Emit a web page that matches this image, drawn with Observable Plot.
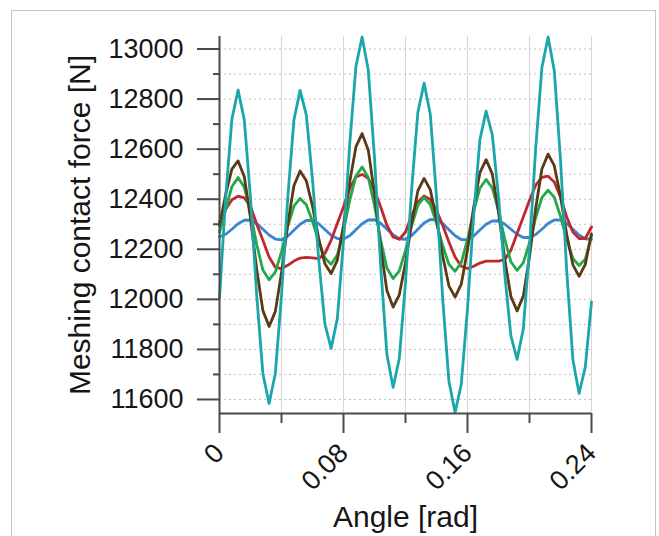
<!DOCTYPE html>
<html>
<head>
<meta charset="utf-8">
<script src="https://cdn.jsdelivr.net/npm/d3@7"></script>
<script src="https://cdn.jsdelivr.net/npm/@observablehq/plot@0.6"></script>
<style>
  html, body { margin: 0; padding: 0; background: #fff; overflow: hidden; }
  #wrap { position: relative; width: 659px; height: 536px; }
  #frame { position: absolute; left: 11px; top: 10px; width: 645px; height: 600px; border: 1px solid #c4c4c4; box-sizing: border-box; }
  #chart { position: absolute; left: 0; top: 0; }
</style>
</head>
<body>
<div id="wrap"><div id="frame"></div><div id="chart"></div></div>
<script>
const angle = [0,0.004,0.008,0.012,0.016,0.02,0.024,0.028,0.032,0.036,0.04,0.044,0.048,0.052,0.056,0.06,0.064,0.068,0.072,0.076,0.08,0.084,0.088,0.092,0.096,0.1,0.104,0.108,0.112,0.116,0.12,0.124,0.128,0.132,0.136,0.14,0.144,0.148,0.152,0.156,0.16,0.164,0.168,0.172,0.176,0.18,0.184,0.188,0.192,0.196,0.2,0.204,0.208,0.212,0.216,0.22,0.224,0.228,0.232,0.236,0.24];

const seriesA = [12250,12260,12280,12302,12316,12317,12303,12280,12257,12241,12238,12252,12276,12300,12315,12316,12302,12279,12256,12243,12241,12254,12278,12302,12317,12318,12304,12280,12258,12242,12240,12255,12280,12305,12319,12318,12303,12278,12254,12239,12238,12253,12277,12300,12313,12314,12301,12280,12260,12247,12247,12259,12280,12303,12317,12317,12303,12280,12257,12242,12240];

const seriesB = [12310,12360,12398,12412,12405,12372,12300,12236,12169,12128,12123,12136,12153,12165,12168,12166,12163,12183,12236,12303,12369,12443,12489,12499,12483,12436,12369,12296,12249,12240,12269,12336,12389,12413,12399,12356,12296,12229,12169,12132,12123,12132,12145,12153,12153,12153,12159,12196,12263,12329,12396,12456,12487,12492,12469,12409,12329,12269,12243,12243,12289];

const seriesC = [12269,12360,12450,12487,12448,12346,12219,12117,12078,12109,12190,12291,12372,12403,12378,12312,12231,12165,12140,12177,12274,12395,12492,12529,12487,12375,12237,12125,12083,12114,12195,12295,12376,12407,12379,12305,12214,12140,12112,12147,12239,12352,12444,12479,12445,12354,12241,12150,12116,12146,12226,12326,12406,12436,12407,12332,12239,12163,12135,12160,12255];

const seriesD = [12295,12420,12520,12553,12490,12325,12120,11955,11892,11951,12106,12299,12454,12513,12474,12372,12244,12142,12103,12156,12296,12469,12609,12662,12596,12423,12208,12035,11969,12018,12146,12306,12434,12483,12438,12319,12173,12054,12009,12061,12198,12369,12506,12558,12501,12350,12162,12011,11954,12013,12170,12364,12521,12580,12534,12412,12260,12138,12092,12140,12262];

const seriesE = [12005,12410,12720,12836,12717,12404,12016,11703,11584,11703,12016,12403,12716,12835,12737,12479,12160,11902,11804,11922,12233,12619,12930,13048,12915,12565,12131,11781,11648,11764,12068,12444,12748,12864,12739,12410,12002,11673,11548,11662,11963,12337,12638,12752,12658,12410,12102,11854,11760,11882,12204,12604,12926,13048,12913,12557,12115,11759,11624,11730,11990];

const seriesNames = ["S1", "S2", "S3", "S4", "S5"];
const seriesColors = ["#3a86d2", "#c0282e", "#24a94a", "#5b3912", "#1aa6ab"];
const seriesValues = [seriesA, seriesB, seriesC, seriesD, seriesE];

const xMajorTicks = [0, 0.08, 0.16, 0.24];
const xMinorTicks = [0.04, 0.12, 0.2];
const xGrid = [0.04, 0.08, 0.12, 0.16, 0.2, 0.24];
const yMajorTicks = [11600, 11800, 12000, 12200, 12400, 12600, 12800, 13000];
const yMinorTicks = [11700, 11900, 12100, 12300, 12500, 12700, 12900];
const yGrid = [11600, 11700, 11800, 11900, 12000, 12100, 12200, 12300, 12400, 12500, 12600, 12700, 12800, 12900, 13000];

const xLabel = "Angle [rad]";
const yLabel = "Meshing contact force [N]";

const data = [];
seriesValues.forEach((vals, s) => {
  vals.forEach((v, i) => data.push({angle: angle[i], force: v, series: seriesNames[s]}));
});

const axisColor = "#4a4a4a";
const textColor = "#161616";

const chart = Plot.plot({
  width: 659,
  height: 536,
  marginLeft: 219,
  marginRight: 68,
  marginTop: 36,
  marginBottom: 123,
  x: {domain: [0, 0.24]},
  y: {domain: [11544, 13050]},
  color: {domain: seriesNames, range: seriesColors},
  style: {fontFamily: "'Liberation Sans', Arial, sans-serif", background: "transparent", color: textColor},
  marks: [
    Plot.gridX(xGrid, {stroke: "#d6d6d6", strokeOpacity: 1, strokeWidth: 1}),
    Plot.gridY(yGrid, {stroke: "#c0c0c0", strokeOpacity: 1, strokeWidth: 1, strokeDasharray: "2,3"}),
    Plot.line(data, {x: "angle", y: "force", z: "series", stroke: "series", strokeWidth: 2.8, curve: "linear", strokeLinejoin: "round"}),
    Plot.ruleY([11544], {stroke: axisColor, strokeWidth: 2}),
    Plot.ruleX([0], {stroke: axisColor, strokeWidth: 2}),
    Plot.axisY(yMajorTicks, {tickSize: 22, tickPadding: 14, tickFormat: "d", fontSize: 27, stroke: axisColor, strokeWidth: 2, fill: textColor, label: null}),
    Plot.axisY(yMinorTicks, {tickSize: 6, tickFormat: () => "", stroke: axisColor, strokeWidth: 2, label: null}),
    Plot.axisX(xMajorTicks, {tickSize: 20, tickPadding: 15, tickRotate: -45, tickFormat: d => String(d), fontSize: 27, stroke: axisColor, strokeWidth: 2, fill: textColor, label: null}),
    Plot.axisX(xMinorTicks, {tickSize: 10, tickFormat: () => "", stroke: axisColor, strokeWidth: 2, label: null}),
    Plot.text([xLabel], {text: d => d, frameAnchor: "bottom", dy: 104, fontSize: 30, fill: textColor, lineAnchor: "middle", textAnchor: "middle"}),
    Plot.text([yLabel], {text: d => d, frameAnchor: "left", dx: -139, rotate: -90, fontSize: 30, fill: textColor, lineAnchor: "middle", textAnchor: "middle"})
  ]
});
document.getElementById("chart").appendChild(chart);
</script>
</body>
</html>
